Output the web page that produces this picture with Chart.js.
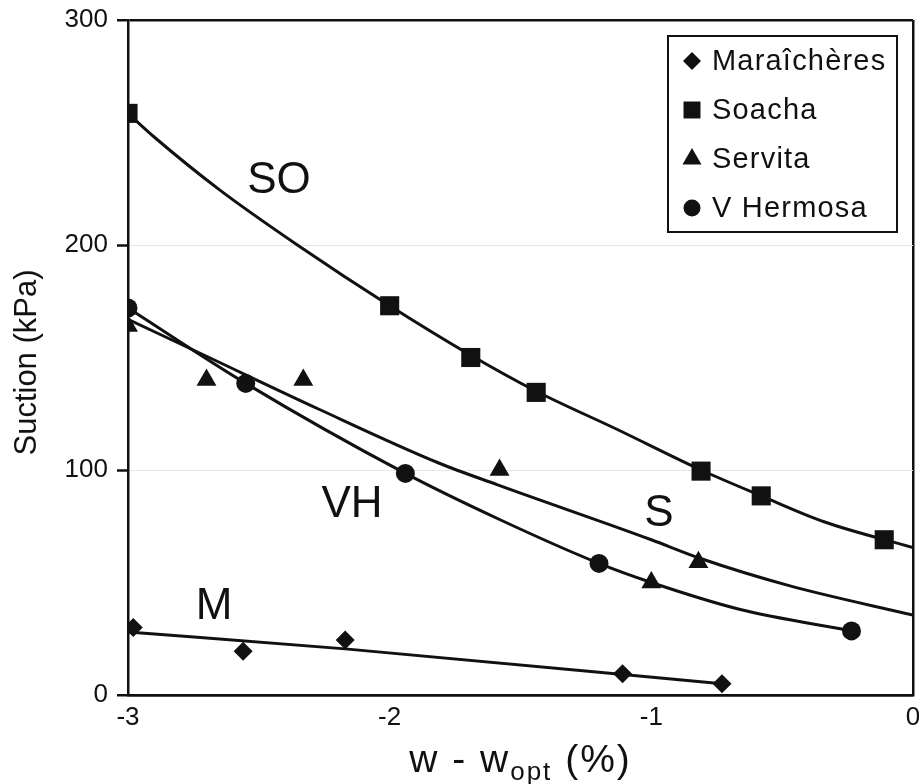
<!DOCTYPE html>
<html>
<head>
<meta charset="utf-8">
<script src="https://cdn.jsdelivr.net/npm/chart.js@4/dist/chart.umd.min.js"></script>
<style>
  html, body { margin: 0; padding: 0; background: #fff; }
  #wrap { width: 919px; height: 784px; }
</style>
</head>
<body>
<div id="wrap"><canvas id="suctionChart" width="919" height="784"></canvas></div>
<script>
// Measured points per soil
const maraicheresX = [-2.98, -2.56, -2.17, -1.11, -0.73];
const maraicheresY = [30, 19.5, 24.5, 9.5, 5];
const soachaX = [-3, -2.0, -1.69, -1.44, -0.81, -0.58, -0.11];
const soachaY = [258.5, 173, 150, 134.5, 99.5, 88.5, 69];
const servitaX = [-3, -2.7, -2.33, -1.58, -1.0, -0.82];
const servitaY = [164, 140, 140, 100, 50, 59];
const hermosaX = [-3, -2.55, -1.94, -1.2, -0.235];
const hermosaY = [172, 138.5, 98.5, 58.5, 28.5];

// Trend curves
const fitSoX = [-3, -2.9, -2.65, -2.34, -2.0, -1.69, -1.44, -1.13, -0.81, -0.58, -0.34, 0];
const fitSoY = [258.5, 248, 224.5, 199, 173, 151, 135, 118, 100, 88.5, 77, 65.5];
const fitSX = [-3, -2.69, -2.27, -1.81, -1.59, -1.0, -0.82, -0.47, 0];
const fitSY = [167, 150, 127, 103, 93.5, 69, 61, 48.5, 35.5];
const fitVhX = [-3, -2.55, -1.94, -1.58, -1.2, -1.0, -0.66, -0.235];
const fitVhY = [172, 138.5, 98.5, 78, 58.5, 50, 38, 28.5];
const fitMX = [-3, -2.17, -0.73];
const fitMY = [28, 20.5, 5];

// Curve names written on the plot
const curveNames = ["SO", "S", "VH", "M"];
const curveNameX = [-2.423, -0.971, -2.144, -2.671];
const curveNameY = [228.4, 80.4, 84.4, 39.1];

const xTicks = [-3, -2, -1, 0];
const yTicks = [0, 100, 200, 300];

const INK = "#111";
const FONT = "'Liberation Sans', Arial, Helvetica, sans-serif";

const toPoints = (xs, ys) => xs.map((x, i) => ({ x, y: ys[i] }));

function curve(xs, ys) {
  return {
    data: toPoints(xs, ys),
    showLine: true,
    borderColor: INK,
    borderWidth: 3,
    pointRadius: 0,
    cubicInterpolationMode: "monotone",
    inLegend: false
  };
}

function markers(label, xs, ys, style, radius, legendRadius) {
  return {
    label,
    data: toPoints(xs, ys),
    showLine: false,
    pointStyle: style,
    pointRadius: radius,
    pointBackgroundColor: INK,
    pointBorderWidth: 0,
    legendRadius,
    inLegend: true
  };
}

// Boxed legend in the top right corner, curve names, x tick labels and axis titles
const decorations = {
  id: "decorations",
  afterDatasetsDraw(chart) {
    const { ctx, scales, chartArea } = chart;
    const xs = scales.x, ys = scales.y;

    ctx.save();
    ctx.fillStyle = INK;
    ctx.font = "44px " + FONT;
    ctx.textAlign = "center";
    ctx.textBaseline = "middle";
    curveNames.forEach((name, i) => {
      ctx.fillText(name, xs.getPixelForValue(curveNameX[i]), ys.getPixelForValue(curveNameY[i]));
    });

    // x tick labels, the last one may run past the canvas edge
    ctx.font = "26px " + FONT;
    ctx.textBaseline = "top";
    xTicks.forEach(v => {
      ctx.fillText(String(v), xs.getPixelForValue(v), chartArea.bottom + 10);
    });

    // legend box
    const box = { left: 668, top: 36, width: 229, height: 196 };
    ctx.fillStyle = "#fff";
    ctx.fillRect(box.left, box.top, box.width, box.height);
    ctx.strokeStyle = INK;
    ctx.lineWidth = 2;
    ctx.strokeRect(box.left, box.top, box.width, box.height);

    ctx.font = "29px " + FONT;
    ctx.textAlign = "left";
    ctx.textBaseline = "middle";
    ctx.letterSpacing = "1.2px";
    let row = 0;
    chart.data.datasets.forEach(ds => {
      if (!ds.inLegend) return;
      const cy = box.top + 25 + row * 49;
      ctx.fillStyle = INK;
      Chart.helpers.drawPoint(ctx, {
        pointStyle: ds.pointStyle,
        radius: ds.legendRadius,
        rotation: 0,
        borderWidth: 0
      }, 692, cy);
      ctx.fillText(ds.label, 712, cy + 1);
      row++;
    });
    ctx.letterSpacing = "0px";

    // y axis title
    ctx.save();
    ctx.translate(27, (chartArea.top + chartArea.bottom) / 2 + 5);
    ctx.rotate(-Math.PI / 2);
    ctx.font = "31px " + FONT;
    ctx.textAlign = "center";
    ctx.fillText("Suction (kPa)", 0, 0);
    ctx.restore();

    // x axis title with subscript
    const big = "39px " + FONT, small = "26px " + FONT;
    const partA = "w - w", partB = "opt", partC = " (%)";
    ctx.letterSpacing = "2px";
    ctx.font = big;
    const wA = ctx.measureText(partA).width, wC = ctx.measureText(partC).width;
    ctx.font = small;
    const wB = ctx.measureText(partB).width;
    const total = wA + wB + wC;
    const x0 = (chartArea.left + chartArea.right) / 2 - total / 2;
    const base = 772;
    ctx.textAlign = "left";
    ctx.textBaseline = "alphabetic";
    ctx.font = big;
    ctx.fillText(partA, x0, base);
    ctx.font = small;
    ctx.fillText(partB, x0 + wA, base + 8);
    ctx.font = big;
    ctx.fillText(partC, x0 + wA + wB, base);
    ctx.restore();
  }
};

const ctx = document.getElementById("suctionChart");
new Chart(ctx, {
  type: "scatter",
  data: {
    datasets: [
      curve(fitSoX, fitSoY),
      curve(fitSX, fitSY),
      curve(fitVhX, fitVhY),
      curve(fitMX, fitMY),
      markers("Maraîchères", maraicheresX, maraicheresY, "rectRot", 9.5, 9),
      markers("Soacha", soachaX, soachaY, "rect", 13.5, 12),
      markers("Servita", servitaX, servitaY, "triangle", 11.5, 11),
      markers("V Hermosa", hermosaX, hermosaY, "circle", 9.5, 8.5)
    ]
  },
  options: {
    responsive: false,
    devicePixelRatio: 1,
    animation: false,
    layout: {
      autoPadding: false,
      padding: { top: 20, right: 6, left: 0, bottom: 0 }
    },
    plugins: {
      legend: { display: false },
      tooltip: { enabled: false }
    },
    scales: {
      x: {
        type: "linear",
        min: -3,
        max: 0,
        afterFit: s => { s.height = 89; },
        afterBuildTicks: s => { s.ticks = xTicks.map(v => ({ value: v })); },
        ticks: { display: false },
        grid: {
          drawTicks: false,
          color: c => (c.tick && c.tick.value === 0 ? INK : "rgba(0,0,0,0)"),
          lineWidth: 2.5
        },
        border: { color: INK, width: 2.5 }
      },
      y: {
        min: 0,
        max: 300,
        afterFit: s => {
          s.width = 128;
          s.paddingTop = 0;
          s.paddingBottom = 0;
        },
        afterBuildTicks: s => { s.ticks = yTicks.map(v => ({ value: v })); },
        ticks: {
          color: INK,
          font: { family: FONT, size: 26 },
          padding: 9
        },
        grid: {
          color: c => (c.tick && (c.tick.value === 300 || c.tick.value === 0) ? INK : "#e6e6e6"),
          lineWidth: c => (c.tick && (c.tick.value === 300 || c.tick.value === 0) ? 2.5 : 1),
          tickColor: INK,
          tickLength: 11,
          tickWidth: 2.5
        },
        border: { color: INK, width: 2.5 }
      }
    }
  },
  plugins: [decorations]
});
</script>
</body>
</html>
